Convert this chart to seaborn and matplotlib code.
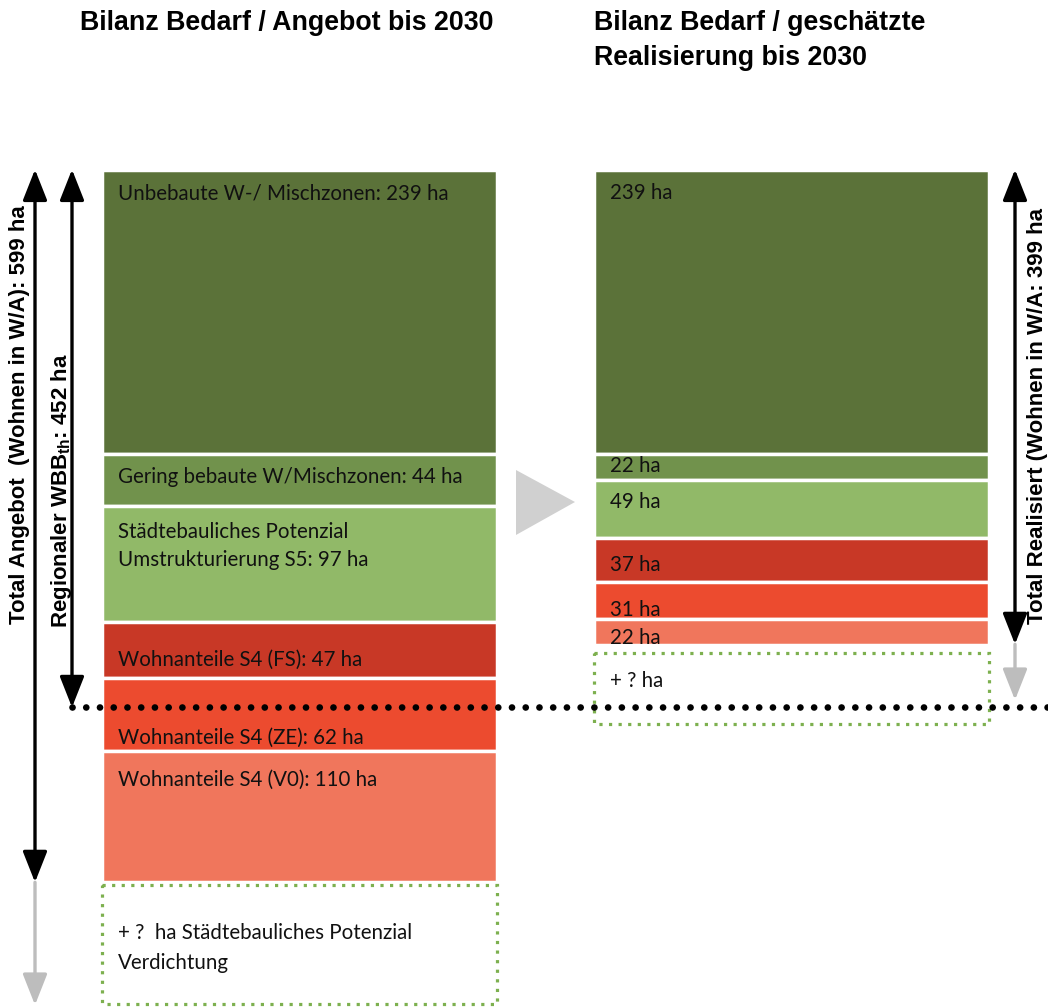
import numpy as np
import pandas as pd
import matplotlib
matplotlib.use("Agg")
import matplotlib.pyplot as plt
import seaborn as sns
from matplotlib.patches import FancyArrowPatch, Rectangle, Polygon

# ---------------- data ----------------
column_titles = ["Bilanz Bedarf / Angebot bis 2030",
                 "Bilanz Bedarf / geschätzte\nRealisierung bis 2030"]
categories = ["Unbebaute W-/ Mischzonen", "Gering bebaute W/Mischzonen",
              "Städtebauliches Potenzial\nUmstrukturierung S5",
              "Wohnanteile S4 (FS)", "Wohnanteile S4 (ZE)", "Wohnanteile S4 (V0)"]
angebot = [239, 44, 97, 47, 62, 110]
realisiert = [239, 22, 49, 37, 31, 22]
total_angebot = 599
regional_wbb = 452
total_realisiert = 399
box_left_text = "+ ?  ha Städtebauliches Potenzial\nVerdichtung"
box_right_text = "+ ? ha"

# ---------------- styles ----------------
seg_colors = ["#5B7239", "#71924C", "#91B968", "#C83826", "#EC4B2F", "#F0765C"]
green_dot = "#7DB04F"
label_off_left = [20, 19, 33, 32, 51, 24]
label_off_right = [20, 10, 18, 22, 23, 16]

sns.set_theme(style="white")
plt.rcParams["font.family"] = ["Liberation Sans", "DejaVu Sans"]
plt.rcParams["mathtext.fontset"] = "custom"
plt.rcParams["mathtext.rm"] = "Liberation Sans"
plt.rcParams["mathtext.bf"] = "Liberation Sans:bold"

W_PX, H_PX = 1048, 1007
TOP_PX, PX_PER_HA = 169.5, 1.19
LEFT_C, RIGHT_C = 299.5, 791.5
STEP = RIGHT_C - LEFT_C


def X(px):
    return (px - LEFT_C) / STEP


def Y(py):
    return (py - TOP_PX) / PX_PER_HA


fig = plt.figure(figsize=(W_PX / 100, H_PX / 100), dpi=100)
ax = fig.add_axes([0, 0, 1, 1])

cum_a = np.concatenate([[0], np.cumsum(angebot)[:-1]])
cum_r = np.concatenate([[0], np.cumsum(realisiert)[:-1]])

for i in range(len(categories)):
    df = pd.DataFrame({"col": ["A", "R"], "ha": [angebot[i], realisiert[i]]})
    sns.barplot(data=df, x="col", y="ha", order=["A", "R"], bottom=[cum_a[i], cum_r[i]],
                color=seg_colors[i], saturation=1, width=395 / STEP, errorbar=None,
                edgecolor="white", linewidth=2.5, ax=ax, zorder=2)

lab_font = dict(family=["Lato", "DejaVu Sans"], fontsize=14.8, color="#111111")
for i, cat in enumerate(categories):
    ax.text(X(118), cum_a[i] + label_off_left[i], f"{cat}: {angebot[i]} ha",
            ha="left", va="center", linespacing=1.5, zorder=5, **lab_font)
    ax.text(X(610), cum_r[i] + label_off_right[i], f"{realisiert[i]} ha",
            ha="left", va="center", zorder=5, **lab_font)

# dotted "unknown" boxes
box_a = Rectangle((X(102), total_angebot + 2), 395 / STEP, 100, fill=False,
                  edgecolor=green_dot, linewidth=2.3, linestyle=(0, (1, 2)), zorder=3)
box_r = Rectangle((X(594), total_realisiert + 7), 395 / STEP, 60, fill=False,
                  edgecolor=green_dot, linewidth=2.3, linestyle=(0, (1, 2)), zorder=3)
ax.add_patch(box_a)
ax.add_patch(box_r)
ax.text(X(118), total_angebot + 55, box_left_text, ha="left", va="center",
        linespacing=1.6, **lab_font)
ax.text(X(610), total_realisiert + 31, box_right_text, ha="left", va="center", **lab_font)

# regional WBB dotted line
ax.plot([X(72), X(1048)], [regional_wbb, regional_wbb], color="black", linewidth=4.8,
        linestyle=(0, (0.01, 2.05)), dash_capstyle="round", zorder=6)

# arrows
def arrow(x, y0, y1, style, color):
    a = FancyArrowPatch((x, y0), (x, y1), arrowstyle=style, mutation_scale=10,
                        color=color, linewidth=2.4, shrinkA=0, shrinkB=0, zorder=4)
    ax.add_patch(a)

hs = "<|-|>,head_length=1.9,head_width=0.75"
hs1 = "-|>,head_length=1.9,head_width=0.75"
arrow(X(35), 0, total_angebot, hs, "black")
arrow(X(35), total_angebot, Y(1005), hs1, "#BDBDBD")
arrow(X(72), 0, regional_wbb, hs, "black")
arrow(X(1015), 0, total_realisiert, hs, "black")
arrow(X(1015), total_realisiert, Y(700), hs1, "#BDBDBD")

arr_font = dict(fontsize=16.0, fontweight="bold", color="black", rotation=90,
                ha="center", va="center")
ax.text(X(20), Y(415), f"Total Angebot  (Wohnen in W/A): {total_angebot} ha", **arr_font)
ax.text(X(61), Y(491), f"Regionaler WBB$_{{\\mathbf{{th}}}}$: {regional_wbb} ha", **arr_font)
ax.text(X(1037), Y(416), f"Total Realisiert (Wohnen in W/A: {total_realisiert} ha", **arr_font)

# grey transition triangle
tri = Polygon([(X(516), Y(470)), (X(516), Y(535)), (X(575), Y(502))], closed=True,
              facecolor="#D0D0D0", edgecolor="none", zorder=2)
ax.add_patch(tri)

# titles
title_font = dict(fontsize=19.3, fontweight="bold", color="black", ha="left", va="top",
                  linespacing=1.45)
ax.text(X(80), Y(10), column_titles[0], **title_font)
ax.text(X(594), Y(10), column_titles[1], **title_font)

ax.set_xlim(X(0), X(W_PX))
ax.set_ylim(Y(H_PX), Y(0))
ax.axis("off")

fig.savefig("out.png", dpi=100)
